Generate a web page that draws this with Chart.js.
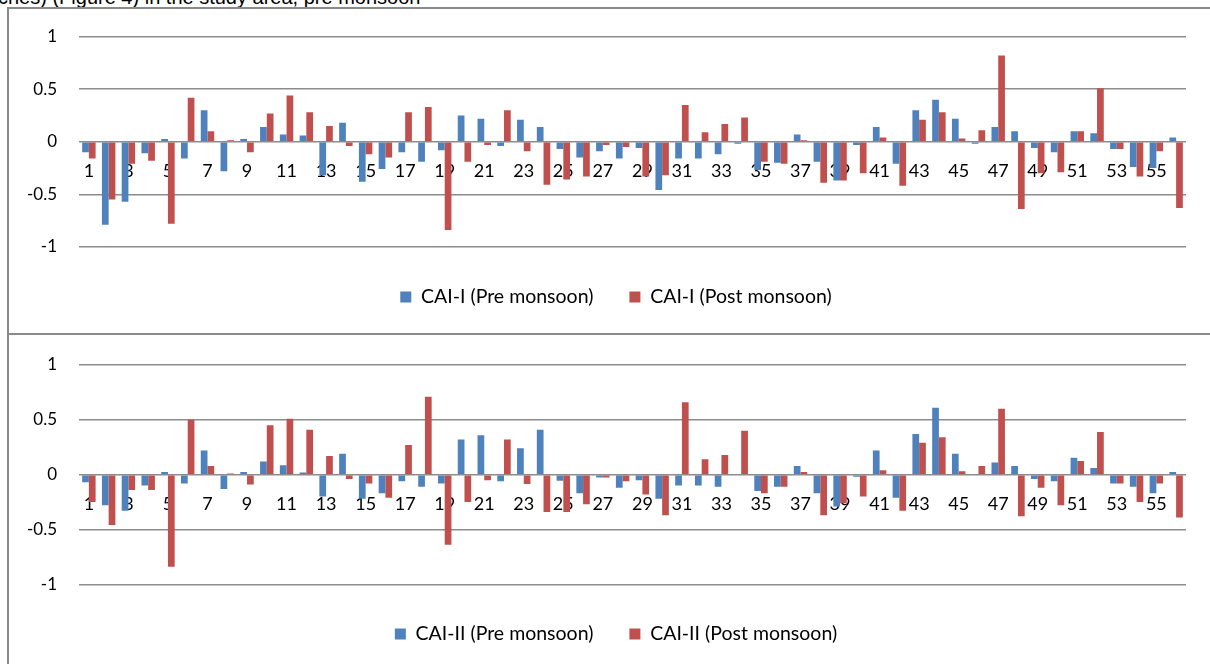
<!DOCTYPE html>
<html><head><meta charset="utf-8">
<script src="https://cdn.jsdelivr.net/npm/chart.js@4.4.0/dist/chart.umd.min.js"></script>
<style>
html,body{margin:0;padding:0;background:#fff;overflow:hidden;width:1210px;height:664px;}
#cap{position:absolute;left:-2px;top:-14px;font:20px "Liberation Sans",Arial,sans-serif;white-space:pre;color:#000}
.box{position:absolute;left:7px;border:2px solid #8a8a8a;border-right:none;background:#fff;overflow:hidden}
#b1{top:7px;width:1210px;height:324px;}
#b2{top:335px;width:1210px;height:340px;border-top:none;}
canvas{position:absolute;left:0;top:0}
</style></head>
<body>
<div id="cap">ches) (Figure 4) in the study area, pre monsoon</div>
<div class="box" id="b1"><canvas id="c1" width="1201" height="324"></canvas></div>
<div class="box" id="b2"><canvas id="c2" width="1201" height="330"></canvas></div>
<script>
const categories = ['1','2','3','4','5','6','7','8','9','10','11','12','13','14','15','16','17','18','19','20','21','22','23','24','25','26','27','28','29','30','31','32','33','34','35','36','37','38','39','40','41','42','43','44','45','46','47','48','49','50','51','52','53','54','55','56'];
const yTicks = [1, 0.5, 0, -0.5, -1];
const yTickLabels = ['1', '0.5', '0', '-0.5', '-1'];

const cai1Pre = [-0.10,-0.79,-0.57,-0.11,0.025,-0.16,0.30,-0.28,0.025,0.14,0.07,0.06,-0.32,0.18,
  -0.38,-0.26,-0.10,-0.19,-0.08,0.25,0.22,-0.04,0.21,0.14,-0.07,-0.15,-0.09,-0.16,
  -0.06,-0.46,-0.16,-0.16,-0.12,-0.02,-0.27,-0.20,0.07,-0.19,-0.37,-0.03,0.14,-0.21,
  0.30,0.40,0.22,-0.02,0.14,0.10,-0.06,-0.10,0.10,0.08,-0.07,-0.24,-0.25,0.04];
const cai1Post = [-0.16,-0.55,-0.21,-0.18,-0.78,0.42,0.10,0.015,-0.10,0.27,0.44,0.28,0.15,-0.04,
  -0.12,-0.15,0.28,0.33,-0.84,-0.19,-0.03,0.30,-0.09,-0.41,-0.36,-0.33,-0.03,-0.05,
  -0.33,-0.32,0.35,0.09,0.17,0.23,-0.19,-0.21,0.015,-0.39,-0.37,-0.30,0.04,-0.42,
  0.21,0.28,0.03,0.11,0.82,-0.64,-0.30,-0.29,0.10,0.51,-0.07,-0.33,-0.09,-0.63];

const cai2Pre = [-0.07,-0.28,-0.33,-0.10,0.025,-0.08,0.22,-0.13,0.025,0.12,0.085,0.02,-0.20,0.19,
  -0.22,-0.17,-0.06,-0.11,-0.08,0.32,0.36,-0.06,0.24,0.41,-0.055,-0.17,-0.025,-0.12,
  -0.05,-0.22,-0.10,-0.10,-0.11,0,-0.15,-0.11,0.08,-0.17,-0.29,-0.02,0.22,-0.21,
  0.37,0.61,0.19,0,0.11,0.08,-0.04,-0.06,0.155,0.06,-0.08,-0.11,-0.17,0.025];
const cai2Post = [-0.25,-0.46,-0.14,-0.14,-0.84,0.50,0.08,0.01,-0.09,0.45,0.51,0.41,0.17,-0.04,
  -0.08,-0.21,0.27,0.71,-0.64,-0.25,-0.05,0.32,-0.085,-0.34,-0.34,-0.27,-0.025,-0.06,
  -0.18,-0.37,0.66,0.14,0.18,0.40,-0.17,-0.11,0.025,-0.37,-0.26,-0.20,0.04,-0.33,
  0.29,0.34,0.03,0.08,0.60,-0.38,-0.12,-0.28,0.125,0.39,-0.08,-0.25,-0.08,-0.39];

const seriesNames1 = ['CAI-I (Pre monsoon)', 'CAI-I (Post monsoon)'];
const seriesNames2 = ['CAI-II (Pre monsoon)', 'CAI-II (Post monsoon)'];
const BLUE = '#4F81BD', RED = '#C0504D';
const FONT = 'Lato, "Open Sans", sans-serif';

// keep the y tick labels from being clipped by the narrow left axis box
const unclipY = {
  id: 'unclipY',
  afterLayout(chart) { chart.scales.y.left = 0; }
};

function makeChart(id, names, pre, post, pad, padAxisH) {
  return new Chart(document.getElementById(id), {
    type: 'bar',
    data: {
      labels: categories,
      datasets: [
        {label: names[0], data: pre, backgroundColor: BLUE, xAxisID: 'x', barPercentage: 1, categoryPercentage: 0.68},
        {label: names[1], data: post, backgroundColor: RED, xAxisID: 'x', barPercentage: 1, categoryPercentage: 0.68}
      ]
    },
    plugins: [unclipY],
    options: {
      responsive: false,
      animation: false,
      devicePixelRatio: 1,
      layout: {padding: pad},
      plugins: {
        tooltip: {enabled: false},
        legend: {
          position: 'bottom',
          labels: {boxWidth: 11, boxHeight: 11, padding: 36, color: '#000', font: {size: 19.5, family: FONT}}
        }
      },
      scales: {
        y: {
          min: -1, max: 1,
          afterFit: s => { s.width = 70 - pad.left; },
          afterBuildTicks: s => { s.ticks = yTicks.map(v => ({value: v})); },
          ticks: {
            color: '#000', padding: 2, font: {size: 17, family: FONT},
            callback: v => yTickLabels[yTicks.indexOf(v)]
          },
          grid: {color: '#8c8c8c', lineWidth: 1.5, drawTicks: true, tickLength: 20, tickColor: 'rgba(0,0,0,0)'},
          border: {display: false}
        },
        x: {
          position: {y: 0},
          grid: {display: false},
          border: {display: false},
          ticks: {
            autoSkip: false, maxRotation: 0, minRotation: 0, padding: 11, color: '#000',
            font: {size: 18, family: FONT},
            callback: (v, i) => (i % 2 === 0 ? categories[i] : '')
          }
        },
        xPad: {
          type: 'category', position: 'bottom', display: true,
          grid: {display: false}, border: {display: false}, ticks: {display: false},
          afterFit: s => { s.height = padAxisH; }
        }
      }
    }
  });
}

makeChart('c1', seriesNames1, cai1Pre, cai1Post, {left: 37, right: 24, top: 27.7, bottom: 16.25}, 4.45);
makeChart('c2', seriesNames2, cai2Pre, cai2Post, {left: 37, right: 24, top: 30, bottom: 11.25}, 3.95);
</script>
</body></html>
